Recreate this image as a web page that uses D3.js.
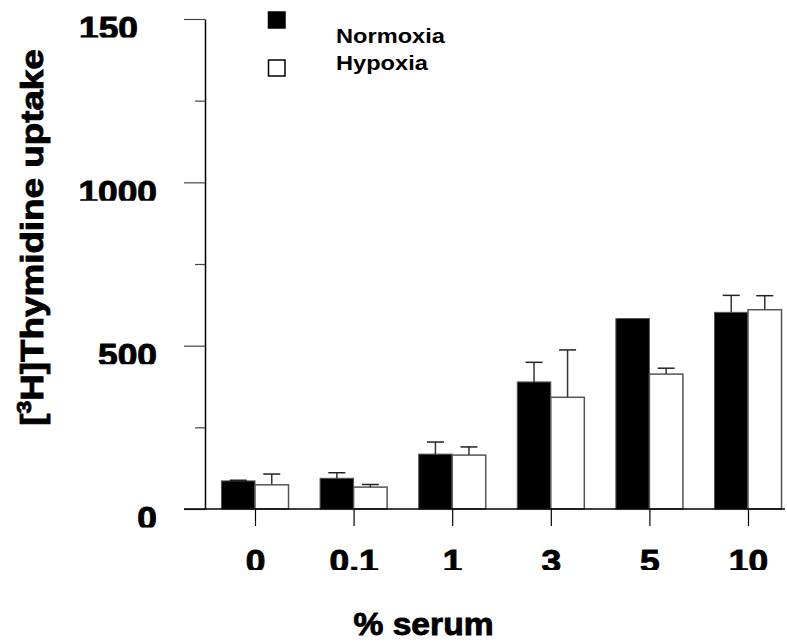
<!DOCTYPE html>
<html>
<head>
<meta charset="utf-8">
<script src="https://cdn.jsdelivr.net/npm/d3@7"></script>
<style>
  body { margin: 0; background: #fff; }
  text { font-family: "Liberation Sans", Arial, sans-serif; font-weight: bold; fill: #000; }
  .heavy { stroke: #000; stroke-width: 0.9px; }
</style>
</head>
<body>
<script>
// data
const categories = ['0', '0.1', '1', '3', '5', '10'];
const normoxia = [86, 94, 168, 389, 583, 602];
const normoxiaErr = [2, 17, 37, 60, 0, 52];
const hypoxia = [74, 67, 165, 342, 413, 610];
const hypoxiaErr = [33, 8, 25, 145, 18, 43];
const yTickValues = [0, 500, 1000, 1500];
const yTickLabels = ['0', '500', '1000', '150'];
const yMinorTicks = [250, 750, 1250];
const seriesNames = ['Normoxia', 'Hypoxia'];

const width = 787, height = 644;

const svg = d3.select('body').append('svg')
  .attr('width', width)
  .attr('height', height);

const defs = svg.append('defs');

// widen glyphs a bit, the original lettering is broader than Arial bold
const stretch = (sel, k) => {
  sel.each(function() {
    const w = this.getComputedTextLength();
    this.setAttribute('textLength', w * k);
    this.setAttribute('lengthAdjust', 'spacingAndGlyphs');
  });
};

const x = d3.scalePoint().domain(categories).range([255, 748]);
const y = d3.scaleLinear().domain([0, 1500]).range([509, 19]);
const barW = x.step() * 0.34;

// labels in the original are cut off at the bottom
defs.append('clipPath').attr('id', 'ytl')
  .attr('clipPathUnits', 'userSpaceOnUse')
  .append('rect').attr('x', -300).attr('y', -40).attr('width', 300).attr('height', 58);
defs.append('clipPath').attr('id', 'xtl')
  .attr('clipPathUnits', 'userSpaceOnUse')
  .append('rect').attr('x', -100).attr('y', 0).attr('width', 200).attr('height', 61);

// y axis
const yAxis = svg.append('g')
  .attr('transform', 'translate(205,0)')
  .call(d3.axisLeft(y)
    .tickValues(yTickValues)
    .tickSize(21)
    .tickSizeOuter(0)
    .tickPadding(27)
    .tickFormat((d, i) => yTickLabels[i]));

yAxis.select('.domain').attr('stroke', '#000').attr('stroke-width', 1.5);
yAxis.selectAll('.tick line').attr('stroke', '#444').attr('stroke-width', 1.2);
yAxis.selectAll('.tick text')
  .attr('class', 'heavy')
  .attr('dy', '0.64em')
  .style('font-size', '31px')
  .attr('clip-path', 'url(#ytl)')
  .call(stretch, 1.14);

// top label only shows "150", keep it where "1500" would start
yAxis.selectAll('.tick text')
  .filter((d) => d === 1500)
  .attr('x', -48 - 19);

const yMinor = svg.append('g')
  .attr('transform', 'translate(205,0)')
  .call(d3.axisLeft(y).tickValues(yMinorTicks).tickSize(10).tickFormat(''));
yMinor.select('.domain').remove();
yMinor.selectAll('.tick line').attr('stroke', '#444').attr('stroke-width', 1.2);

// x axis
const xAxis = svg.append('g')
  .attr('transform', `translate(0,${y(0)})`)
  .call(d3.axisBottom(x).tickSize(17).tickSizeOuter(0).tickPadding(26));
xAxis.select('.domain').remove();
xAxis.selectAll('.tick line').attr('stroke', '#000').attr('stroke-width', 1.2);
xAxis.selectAll('.tick text')
  .attr('class', 'heavy')
  .attr('dy', '0.64em')
  .style('font-size', '31px')
  .attr('clip-path', 'url(#xtl)')
  .call(stretch, 1.14);

// bars
const groups = svg.append('g').selectAll('g')
  .data(categories)
  .join('g');

groups.append('rect')
  .attr('x', d => x(d) - barW)
  .attr('y', (d, i) => y(normoxia[i]))
  .attr('width', barW)
  .attr('height', (d, i) => y(0) - y(normoxia[i]))
  .attr('fill', '#000')
  .attr('stroke', '#555')
  .attr('stroke-width', 1);

groups.append('rect')
  .attr('x', d => x(d))
  .attr('y', (d, i) => y(hypoxia[i]))
  .attr('width', barW)
  .attr('height', (d, i) => y(0) - y(hypoxia[i]))
  .attr('fill', '#fff')
  .attr('stroke', '#555')
  .attr('stroke-width', 1.5);

// error bars (upper only)
const drawErr = (vals, errs, side) => {
  groups.each(function(d, i) {
    if (!errs[i]) return;
    const g = d3.select(this);
    const cx = x(d) + side * barW / 2;
    g.append('line')
      .attr('x1', cx).attr('x2', cx)
      .attr('y1', y(vals[i])).attr('y2', y(vals[i] + errs[i]))
      .attr('stroke', '#333').attr('stroke-width', 1.5);
    g.append('line')
      .attr('x1', cx - 8.5).attr('x2', cx + 8.5)
      .attr('y1', y(vals[i] + errs[i])).attr('y2', y(vals[i] + errs[i]))
      .attr('stroke', '#222').attr('stroke-width', 1.5);
  });
};
drawErr(normoxia, normoxiaErr, -1);
drawErr(hypoxia, hypoxiaErr, 1);

// x axis baseline drawn on top of bar edges
svg.append('line')
  .attr('x1', 184).attr('x2', 785)
  .attr('y1', y(0)).attr('y2', y(0))
  .attr('stroke', '#000').attr('stroke-width', 1.5);

// axis titles
svg.append('text')
  .attr('class', 'heavy')
  .attr('x', 423.5)
  .attr('y', 635)
  .attr('text-anchor', 'middle')
  .style('font-size', '32px')
  .text('% serum')
  .call(stretch, 1.05);

const yTitle = svg.append('text')
  .attr('class', 'heavy')
  .attr('transform', 'translate(43,237.5) rotate(-90) scale(1.15,1)')
  .attr('text-anchor', 'middle')
  .style('font-size', '32px');
yTitle.append('tspan').text('[');
yTitle.append('tspan').attr('dy', -12).style('font-size', '20px').text('3');
yTitle.append('tspan').attr('dy', 12).text('H]Thymidine uptake');

// legend
const legend = svg.append('g');
const legendRows = [{ y: 12, fill: '#000', base: 43 }, { y: 60, fill: '#fff', base: 70 }];
legendRows.forEach((r, i) => {
  legend.append('rect')
    .attr('x', 268.5).attr('y', r.y)
    .attr('width', 16.5).attr('height', 16)
    .attr('fill', r.fill)
    .attr('stroke', '#000')
    .attr('stroke-width', 1.5);
  legend.append('text')
    .attr('x', 336)
    .attr('y', r.base)
    .style('font-size', '20px')
    .text(seriesNames[i])
    .call(stretch, 1.18);
});
</script>
</body>
</html>
